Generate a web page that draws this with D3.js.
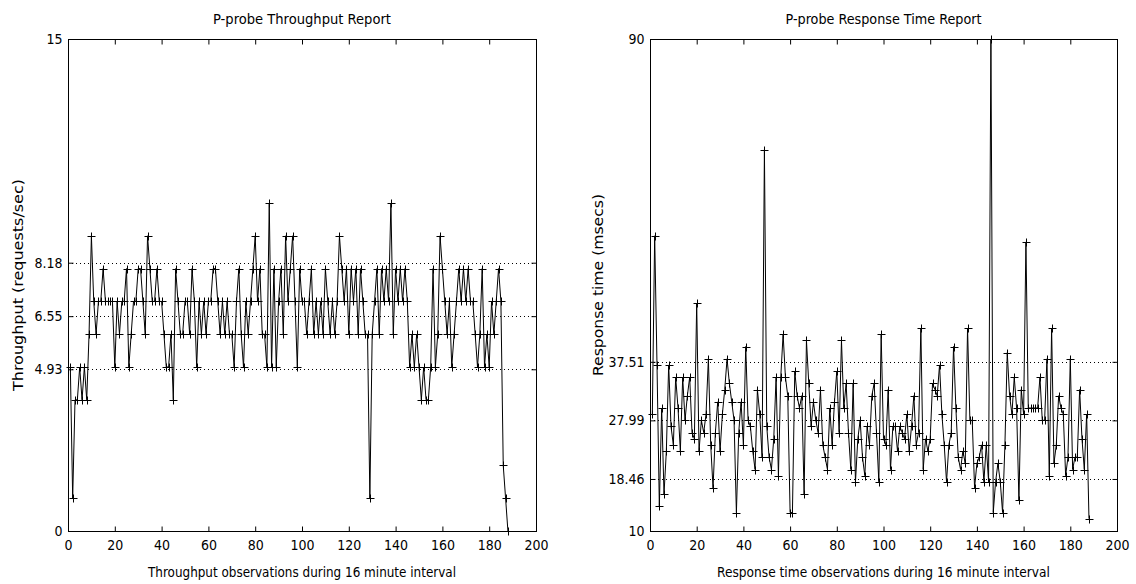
<!DOCTYPE html>
<html><head><meta charset="utf-8">
<script src="https://cdn.jsdelivr.net/npm/d3@7"></script>
<style>
html,body{margin:0;padding:0;background:#fff;}
svg text{font-family:"Liberation Sans Narrow","DejaVu Sans Condensed","Liberation Sans",sans-serif;fill:#000;}
</style></head>
<body><svg id="c" width="1136" height="584"></svg>
<script>
// ---- data ----
const throughputValues = [
 5,1,4,4,5,4,5,4,6,9,
 7,6,7,7,8,7,7,7,7,5,
 7,6,7,7,8,5,6,7,7,8,
 8,7,6,9,8,7,7,8,7,7,
 6,5,5,6,4,8,7,6,6,7,
 7,6,8,7,5,7,6,7,6,7,
 7,8,8,7,6,7,6,7,6,6,
 5,7,8,6,5,7,6,7,8,9,
 7,8,6,6,5,10,5,8,5,7,
 8,6,9,7,8,9,7,5,8,7,
 7,6,7,8,6,7,6,7,6,8,
 7,6,7,6,7,9,8,7,8,6,
 8,7,8,6,8,7,6,6,1,6,
 7,8,6,8,7,8,7,10,6,8,
 7,8,7,8,7,5,6,5,6,5,
 4,5,4,4,5,8,5,6,9,8,
 7,6,7,5,6,7,8,7,8,7,
 8,7,7,6,5,6,8,5,6,5,
 7,6,7,8,7,2,1,0];
const responseValues = [
 29,58,37,14,30,16,23,37,27,24,
 35,30,23,35,28,32,35,26,25,47,
 23,28,26,29,38,24,17,26,31,23,
 29,33,38,34,31,28,13,26,31,24,
 40,28,27,23,20,33,29,22,72,27,
 22,20,25,35,19,35,42,35,32,13,
 13,36,32,30,32,16,41,34,27,31,
 28,26,33,24,22,20,30,24,31,36,
 26,41,30,34,26,20,34,18,25,28,
 22,19,27,24,32,34,26,18,42,25,
 24,33,20,27,27,23,27,26,25,29,
 23,27,32,24,26,43,20,25,23,25,
 34,33,32,37,29,24,18,24,26,40,
 30,22,20,23,21,43,28,28,17,21,
 22,24,18,24,18,90,13,18,21,18,
 13,24,39,32,29,35,30,15,33,29,
 57,30,30,30,30,30,35,28,28,38,
 19,43,21,24,32,30,29,19,22,38,
 20,22,22,33,25,20,29,12];
const xTicks = [0,20,40,60,80,100,120,140,160,180,200];
const throughputYTicks = [0,4.93,6.55,8.18,15];
const throughputRefLines = [4.93,6.55,8.18];
const responseYTicks = [10,18.46,27.99,37.51,90];
const responseRefLines = [18.46,27.99,37.51];

const svg = d3.select("#c");

function panel(o){
  const g = svg.append("g");
  const x = d3.scaleLinear().domain([0,200]).range([o.x0,o.x1]);
  const y = d3.scaleLinear().domain(o.yDomain).range([o.y1,o.y0]);
  // reference dotted lines
  g.selectAll("line.ref").data(o.refs).join("line")
    .attr("x1",o.x0).attr("x2",o.x1)
    .attr("y1",d=>Math.round(y(d))+0.5).attr("y2",d=>Math.round(y(d))+0.5)
    .attr("stroke","#000").attr("stroke-dasharray","1,3");
  // axes
  const fmt = d=>String(d);
  const bottom = g.append("g").attr("transform",`translate(0,${o.y1+0.5})`)
    .call(d3.axisBottom(x).tickValues(xTicks).tickFormat(fmt).tickSizeInner(-5).tickSizeOuter(0).tickPadding(9));
  const top = g.append("g").attr("transform",`translate(0,${o.y0+0.5})`)
    .call(d3.axisTop(x).tickValues(xTicks).tickFormat("").tickSizeInner(-5).tickSizeOuter(0));
  const left = g.append("g").attr("transform",`translate(${o.x0+0.5},0)`)
    .call(d3.axisLeft(y).tickValues(o.yTicks).tickFormat(fmt).tickSizeInner(-5).tickSizeOuter(0).tickPadding(6));
  const right = g.append("g").attr("transform",`translate(${o.x1+0.5},0)`)
    .call(d3.axisRight(y).tickValues(o.yTicks).tickFormat("").tickSizeInner(-5).tickSizeOuter(0));
  g.selectAll(".domain").remove();
  g.selectAll(".tick text").attr("font-size",14).attr("font-family",null);
  g.selectAll(".tick line").attr("stroke","#000");
  g.append("rect").attr("x",o.x0+0.5).attr("y",o.y0+0.5)
    .attr("width",o.x1-o.x0).attr("height",o.y1-o.y0)
    .attr("fill","none").attr("stroke","#000");
  // data line
  const pts = o.values.map((v,i)=>[i+1,v]);
  g.append("path").datum(pts)
    .attr("d",d3.line().x(d=>x(d[0])).y(d=>y(d[1])))
    .attr("fill","none").attr("stroke","#000").attr("stroke-width",1);
  g.selectAll("path.pt").data(pts).join("path").attr("class","pt")
    .attr("transform",d=>`translate(${Math.round(x(d[0]))+0.5},${Math.round(y(d[1]))+0.5})`)
    .attr("d","M-4,0H4M0,-4V4").attr("stroke","#000").attr("stroke-width",1);
  // titles
  const cx = (o.x0+o.x1)/2;
  g.append("text").attr("x",cx).attr("y",24).attr("text-anchor","middle")
    .attr("font-size",14).attr("textLength",o.titleLen).attr("lengthAdjust","spacingAndGlyphs").text(o.title);
  g.append("text").attr("x",cx).attr("y",577).attr("text-anchor","middle")
    .attr("font-size",14).attr("textLength",o.xLabelLen).attr("lengthAdjust","spacingAndGlyphs").text(o.xLabel);
  g.append("text").attr("transform",`translate(${o.yLabelX},${(o.y0+o.y1)/2}) rotate(-90)`)
    .attr("text-anchor","middle").attr("font-size",14)
    .attr("textLength",o.yLabelLen).attr("lengthAdjust","spacingAndGlyphs").text(o.yLabel);
}

panel({x0:68,x1:536,y0:39,y1:531,yDomain:[0,15],values:throughputValues,
  yTicks:throughputYTicks,refs:throughputRefLines,
  title:"P-probe Throughput Report",titleLen:178,
  xLabel:"Throughput observations during 16 minute interval",xLabelLen:308,
  yLabel:"Throughput (requests/sec)",yLabelLen:212,yLabelX:23});
panel({x0:650,x1:1117,y0:39,y1:531,yDomain:[10,90],values:responseValues,
  yTicks:responseYTicks,refs:responseRefLines,
  title:"P-probe Response Time Report",titleLen:196,
  xLabel:"Response time observations during 16 minute interval",xLabelLen:333,
  yLabel:"Response time (msecs)",yLabelLen:182,yLabelX:603});
</script></body></html>
